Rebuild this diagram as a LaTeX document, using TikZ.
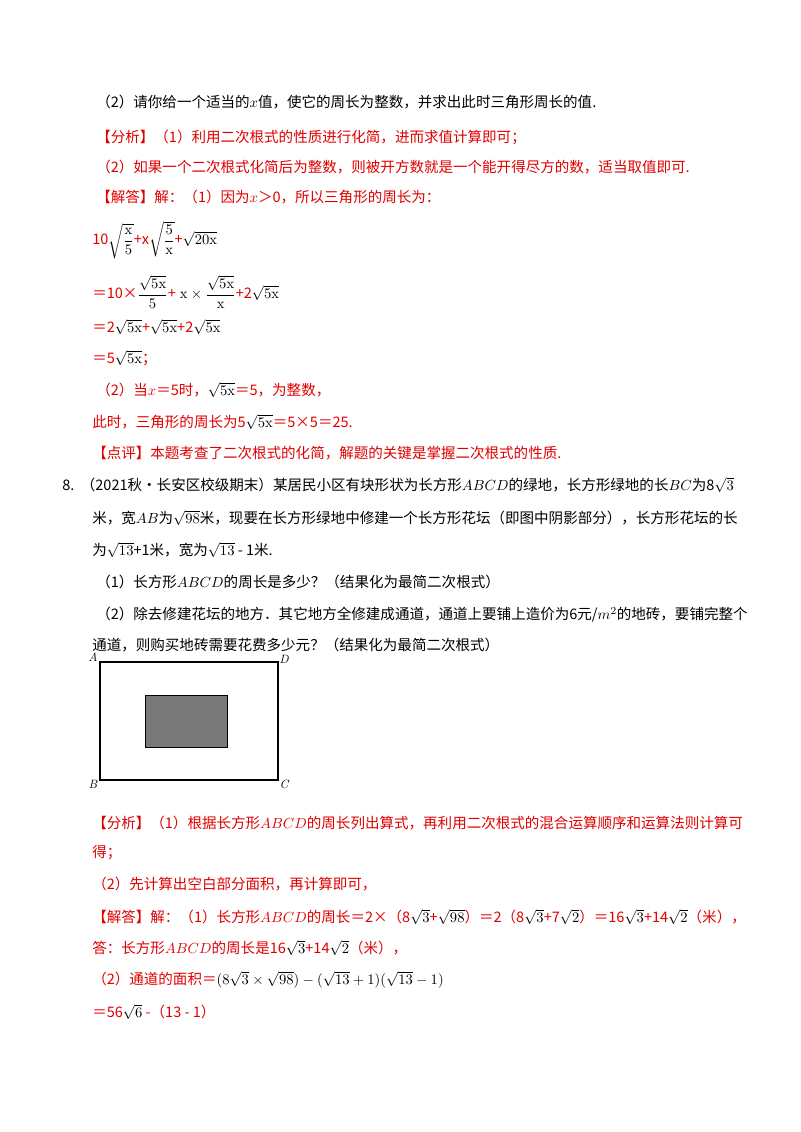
\documentclass[tikz,border=0pt]{standalone}
\usepackage{amsmath}
\usepackage{fontspec}
\newfontfamily\cjk{Noto Sans CJK SC}
\definecolor{redz}{HTML}{E00000}
\definecolor{grayfill}{HTML}{787878}
\begin{document}
\begin{tikzpicture}[x=0.75pt,y=-0.75pt,
  t/.style={anchor=west,inner sep=0,font=\cjk\fontsize{10.9}{13}\selectfont},
  r/.style={t,text=redz},
  lab/.style={inner sep=0,font=\fontsize{9}{10}\selectfont\itshape}]
\useasboundingbox[fill=white] (0,0) rectangle (800,1132);
\node[t] (l1) at (96,102) {（2）请你给一个适当的$x$值，使它的周长为整数，并求出此时三角形周长的值.};
\node[r] (l2) at (96,137) {【分析】（1）利用二次根式的性质进行化简，进而求值计算即可；};
\node[r] (l3) at (96,167) {（2）如果一个二次根式化简后为整数，则被开方数就是一个能开得尽方的数，适当取值即可.};
\node[r] (l4) at (96,197) {【解答】解：（1）因为$x$＞0，所以三角形的周长为：};
\node[r] (l5) at (92,240) {10\textcolor{black}{$\sqrt{\dfrac{\mathrm{x}}{5}}$}+x\textcolor{black}{$\sqrt{\dfrac{5}{\mathrm{x}}}$}+\textcolor{black}{$\sqrt{20\mathrm{x}}$}};
\node[r] (l6) at (92,292) {＝10×\textcolor{black}{$\dfrac{\sqrt{5\mathrm{x}}}{5}$}+\textcolor{black}{$\;\mathrm{x}\times\dfrac{\sqrt{5\mathrm{x}}}{\mathrm{x}}$}+2\textcolor{black}{$\sqrt{5\mathrm{x}}$}};
\node[r] (l7) at (92,327) {＝2\textcolor{black}{$\sqrt{5\mathrm{x}}$}+\textcolor{black}{$\sqrt{5\mathrm{x}}$}+2\textcolor{black}{$\sqrt{5\mathrm{x}}$}};
\node[r] (l8) at (92,358) {＝5\textcolor{black}{$\sqrt{5\mathrm{x}}$}；};
\node[r] (l9) at (96,390) {（2）当$x$＝5时，\textcolor{black}{$\sqrt{5\mathrm{x}}$}＝5，为整数，};
\node[r] (l10) at (92,422) {此时，三角形的周长为5\textcolor{black}{$\sqrt{5\mathrm{x}}$}＝5×5＝25.};
\node[r] (l11) at (92,453) {【点评】本题考查了二次根式的化简，解题的关键是掌握二次根式的性质.};
\node[t] (l12) at (62,485) {8.\ \ （2021秋•长安区校级期末）某居民小区有块形状为长方形$ABCD$的绿地，长方形绿地的长$BC$为8$\sqrt{3}$};
\node[t] (l13) at (92,518) {米，宽$AB$为$\sqrt{98}$米，现要在长方形绿地中修建一个长方形花坛（即图中阴影部分），长方形花坛的长};
\node[t] (l14) at (92,550) {为$\sqrt{13}$+1米，宽为$\sqrt{13}$ - 1米.};
\node[t] (l15) at (96,582) {（1）长方形$ABCD$的周长是多少？（结果化为最简二次根式）};
\node[t] (l16) at (96,615) {（2）除去修建花坛的地方．其它地方全修建成通道，通道上要铺上造价为6元/$m^2$的地砖，要铺完整个};
\node[t] (l17) at (92,645) {通道，则购买地砖需要花费多少元？（结果化为最简二次根式）};
\draw[line width=0.9pt] (100,662) coordinate (A0) rectangle (278,780) coordinate (C0);
\draw[fill=grayfill,line width=0.7pt] (145,695) rectangle (227,747);
\node[lab] (A) at (93,657) {A};
\node[lab] (D) at (284,659) {D};
\node[lab] (B) at (93,784) {B};
\node[lab] (C) at (284,784) {C};
\node[r] (l18) at (92,823) {【分析】（1）根据长方形$ABCD$的周长列出算式，再利用二次根式的混合运算顺序和运算法则计算可};
\node[r] (l19) at (92,853) {得；};
\node[r] (l20) at (92,884) {（2）先计算出空白部分面积，再计算即可，};
\node[r] (l21) at (92,917) {【解答】解：（1）长方形$ABCD$的周长＝2×（8\textcolor{black}{$\sqrt{3}$}+\textcolor{black}{$\sqrt{98}$}）＝2（8\textcolor{black}{$\sqrt{3}$}+7\textcolor{black}{$\sqrt{2}$}）＝16\textcolor{black}{$\sqrt{3}$}+14\textcolor{black}{$\sqrt{2}$}（米），};
\node[r] (l22) at (92,948) {答：长方形$ABCD$的周长是16\textcolor{black}{$\sqrt{3}$}+14\textcolor{black}{$\sqrt{2}$}（米），};
\node[r] (l23) at (92,980) {（2）通道的面积＝\textcolor{black}{$(8\sqrt{3}\times\sqrt{98})-(\sqrt{13}+1)(\sqrt{13}-1)$}};
\node[r] (l24) at (92,1012) {＝56\textcolor{black}{$\sqrt{6}$} -（13 - 1）};
\end{tikzpicture}
\end{document}
